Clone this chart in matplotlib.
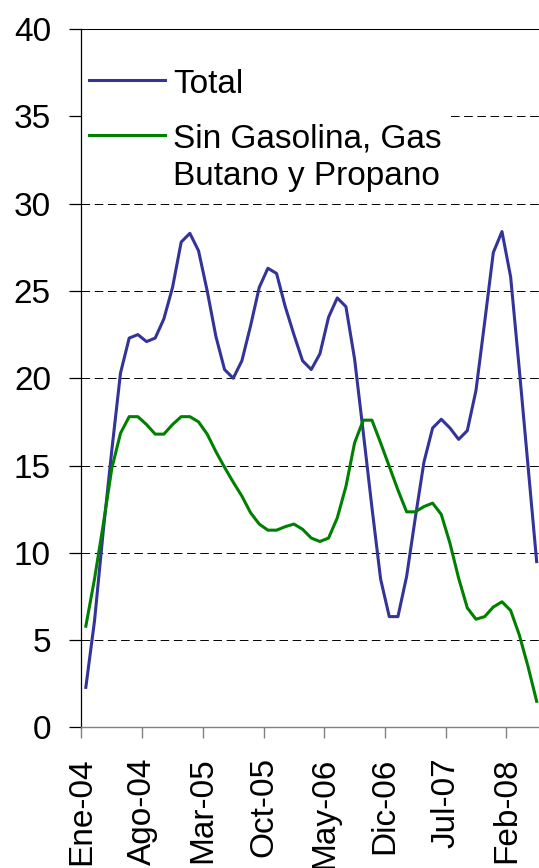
import matplotlib
matplotlib.use('Agg')
import matplotlib.pyplot as plt
import numpy as np
from matplotlib.offsetbox import HPacker

plt.rcParams['font.family'] = ['Liberation Sans', 'DejaVu Sans']
plt.rcParams['lines.scale_dashes'] = False

# Monthly data, Ene-04 .. May-08
total = [2.3, 6.1, 11.2, 15.9, 20.3, 22.3, 22.5, 22.1, 22.3, 23.4,
         25.2, 27.8, 28.3, 27.3, 25.0, 22.4, 20.5, 20.0, 21.0, 23.0,
         25.2, 26.3, 26.0, 24.1, 22.5, 21.0, 20.5, 21.4, 23.5, 24.6,
         24.1, 21.1, 16.9, 12.6, 8.5, 6.35, 6.35, 8.65, 12.0, 15.2,
         17.15, 17.65, 17.15, 16.5, 17.0, 19.3, 23.2, 27.2, 28.4, 25.8,
         20.5, 15.0, 9.5]
sin_gas = [5.8, 8.5, 11.6, 14.85, 16.85, 17.8, 17.8, 17.35, 16.8, 16.8,
           17.35, 17.8, 17.8, 17.5, 16.8, 15.8, 14.9, 14.05, 13.25, 12.3,
           11.65, 11.3, 11.3, 11.5, 11.65, 11.35, 10.85, 10.65, 10.85, 12.0,
           13.8, 16.3, 17.6, 17.6, 16.3, 14.95, 13.6, 12.35, 12.35, 12.65,
           12.85, 12.2, 10.55, 8.55, 6.85, 6.2, 6.35, 6.9, 7.2, 6.7,
           5.3, 3.5, 1.5]
tick_labels = ['Ene-04', 'Ago-04', 'Mar-05', 'Oct-05', 'May-06',
               'Dic-06', 'Jul-07', 'Feb-08']
y_ticks = [0, 5, 10, 15, 20, 25, 30, 35, 40]
series_names = ['Total', 'Sin Gasolina, Gas\nButano y Propano']

fig = plt.figure(figsize=(5.39, 8.68), dpi=100)
ax = fig.add_axes([0.1512, 0.16187, 0.8525, 0.80472])

x = np.arange(len(total))
ax.plot(x, total, color='#333399', lw=2.2, label=series_names[0])
ax.plot(x, sin_gas, color='#008000', lw=2.2, label=series_names[1])

ax.set_xlim(-0.5, len(total) - 0.5)
ax.set_ylim(0, 40)
ax.set_yticks(y_ticks)
ax.set_yticklabels([str(v) for v in y_ticks])
ax.set_xticks(np.arange(len(tick_labels)) * 7 - 0.5)
ax.set_xticklabels(tick_labels, rotation=90, va='top', ha='center')

ax.tick_params(axis='y', direction='out', length=8.5, width=0.9, pad=13.5,
               labelsize=24, color='black')
ax.tick_params(axis='x', direction='out', length=8, width=1.0, pad=13.5,
               labelsize=24, color='#808080')

ax.spines['right'].set_visible(False)
ax.spines['top'].set_color('black')
ax.spines['top'].set_linewidth(0.75)
ax.spines['left'].set_color('black')
ax.spines['left'].set_linewidth(0.9)
ax.spines['bottom'].set_color('#808080')
ax.spines['bottom'].set_linewidth(1.0)
for sp in ax.spines.values():
    sp.set_zorder(6)

ax.yaxis.grid(True, color='black', lw=0.7, linestyle=(0, (6.2, 3.3)))
ax.xaxis.grid(False)
ax.set_axisbelow(True)

leg = ax.legend(loc='upper left', bbox_to_anchor=(0, 0.9535), borderaxespad=0,
                frameon=True, fancybox=False, edgecolor='none',
                facecolor='white', framealpha=1, fontsize=24,
                handlelength=2.29, handletextpad=0.25, borderpad=0.22,
                labelspacing=0.72)
for t in leg.get_texts():
    t.set_linespacing(1.255)
for hp in leg.findobj(HPacker):
    hp.align = 'top'

fig.savefig('out.png', dpi=100)
